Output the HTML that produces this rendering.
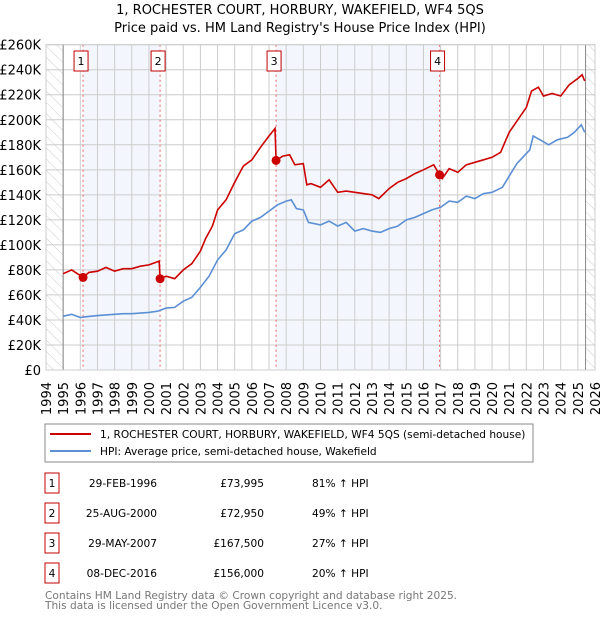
<!DOCTYPE html>
<html><head><meta charset="utf-8"><style>
body{margin:0;background:#fff;font-family:"DejaVu Sans","Liberation Sans",sans-serif;}
svg text{font-family:"DejaVu Sans","Liberation Sans",sans-serif;}
</style></head><body>
<svg id="c" width="600" height="620" xmlns="http://www.w3.org/2000/svg">
<defs><pattern id="hatch" width="8" height="8" patternUnits="userSpaceOnUse" patternTransform="rotate(-45)"><line x1="0" y1="0" x2="0" y2="8" stroke="#ccc" stroke-width="1"/></pattern></defs>
<text x="300" y="14" text-anchor="middle" font-size="13">1, ROCHESTER COURT, HORBURY, WAKEFIELD, WF4 5QS</text>
<text x="300" y="32" text-anchor="middle" font-size="13">Price paid vs. HM Land Registry's House Price Index (HPI)</text>
<g id="plot"></g>
<rect x="45" y="424" width="488" height="38" fill="#fff" stroke="#888"/>
<line x1="50" y1="434" x2="91" y2="434" stroke="#cc0000" stroke-width="2"/>
<text x="100" y="438" font-size="10.6">1, ROCHESTER COURT, HORBURY, WAKEFIELD, WF4 5QS (semi-detached house)</text>
<line x1="50" y1="451" x2="91" y2="451" stroke="#5b8fd4" stroke-width="2"/>
<text x="100" y="455" font-size="10.6">HPI: Average price, semi-detached house, Wakefield</text>
<g id="table"></g>
<text x="45" y="599" font-size="10.6" fill="#777">Contains HM Land Registry data © Crown copyright and database right 2025.</text>
<text x="45" y="609" font-size="10.6" fill="#777">This data is licensed under the Open Government Licence v3.0.</text>
</svg>
<script>
const hpiYears=[1995,1995.5,1996,1996.3,1997,1997.5,1998,1998.5,1999,1999.5,2000,2000.5,2001,2001.5,2002,2002.5,2003,2003.5,2004,2004.5,2005,2005.5,2006,2006.5,2007,2007.5,2008,2008.3,2008.6,2009,2009.3,2010,2010.5,2011,2011.5,2012,2012.5,2013,2013.5,2014,2014.5,2015,2015.5,2016,2016.5,2017,2017.5,2018,2018.5,2019,2019.5,2020,2020.6,2021,2021.45,2022.2,2022.4,2022.8,2023.3,2023.8,2024.4,2024.8,2025.2,2025.4];
const hpiValues=[43,44.5,42,42.5,43.5,44,44.5,45,45,45.5,46,47,49.5,50,55,58,66,75,88,96,109,112,119,122,127,132,135,136,129,128,118,116,119,115,118,111,113,111,110,113,115,120,122,125,128,130,135,134,139,137,141,142,146,155,165,176,187,184,180,184,186,190,196,190];
const propYears=[1995,1995.5,1996.16,1996.5,1997,1997.5,1998,1998.5,1999,1999.5,2000,2000.6,2000.65,2001,2001.5,2002,2002.5,2003,2003.3,2003.7,2004,2004.5,2005,2005.5,2006,2006.5,2007,2007.35,2007.41,2007.8,2008.2,2008.5,2009,2009.2,2009.44,2010,2010.5,2011,2011.5,2012,2012.5,2013,2013.4,2014,2014.5,2015,2015.5,2016,2016.6,2016.94,2017.1,2017.5,2018,2018.5,2019,2019.5,2020,2020.5,2021,2021.5,2022,2022.3,2022.7,2023,2023.5,2024,2024.5,2025,2025.25,2025.4];
const propValues=[77,80,74,78,79,82,79,81,81,83,84,87,73,75,73,80,85,95,105,115,128,136,150,163,168,178,187,193,167.5,171,172,164,165,148,149,146,152,142,143,142,141,140,137,145,150,153,157,160,164,156,153,161,158,164,166,168,170,174,190,200,210,223,226,219,221,219,228,233,236,231];
const saleYears=[1996.16,2000.65,2007.41,2016.94];
const saleValues=[73.995,72.95,167.5,156];
const saleLabels=["1","2","3","4"];
const saleDates=["29-FEB-1996","25-AUG-2000","29-MAY-2007","08-DEC-2016"];
const salePrices=["£73,995","£72,950","£167,500","£156,000"];
const saleHpi=["81% ↑ HPI","49% ↑ HPI","27% ↑ HPI","20% ↑ HPI"];
const yTicks=[0,20,40,60,80,100,120,140,160,180,200,220,240,260];
const yTickLabels=["£0","£20K","£40K","£60K","£80K","£100K","£120K","£140K","£160K","£180K","£200K","£220K","£240K","£260K"];
const xTicks=[1994,1995,1996,1997,1998,1999,2000,2001,2002,2003,2004,2005,2006,2007,2008,2009,2010,2011,2012,2013,2014,2015,2016,2017,2018,2019,2020,2021,2022,2023,2024,2025,2026];

const NS="http://www.w3.org/2000/svg";
const X0=46,X1=595,Y0=370,Y1=44.7;
const xs=y=>X0+(y-1994)/32*(X1-X0);
const ys=v=>Y0-v/260*(Y0-Y1);
const plot=document.getElementById('plot');
function mk(tag,attrs,parent){const e=document.createElementNS(NS,tag);for(const k in attrs)e.setAttribute(k,attrs[k]);(parent||plot).appendChild(e);return e;}
let e;
e=mk('rect',{x:X0,y:Y1,width:X1-X0,height:Y0-Y1,fill:'#fff'});


[[0,1],[2,3]].forEach(p=>{const b=mk('rect',{x:xs(saleYears[p[0]]),y:Y1,width:xs(saleYears[p[1]])-xs(saleYears[p[0]]),height:Y0-Y1,fill:'#eef3fc',opacity:0.7});

});
e=mk('rect',{x:X0,y:Y1,width:xs(1995)-X0,height:Y0-Y1,fill:'url(#hatch)'});


e=mk('rect',{x:xs(2025.45),y:Y1,width:X1-xs(2025.45),height:Y0-Y1,fill:'url(#hatch)'});


yTicks.forEach((t,i)=>{const l=mk('line',{x1:X0,x2:X1,y1:ys(t),y2:ys(t),stroke:'#ccc'});


const tx=mk('text',{x:41,y:ys(t)+5,'text-anchor':'end','font-size':13});tx.textContent=yTickLabels[i];

});
xTicks.forEach(t=>{const l=mk('line',{x1:xs(t),x2:xs(t),y1:Y1,y2:Y0,stroke:'#ccc'});


const tx=mk('text',{x:0,y:0,'text-anchor':'end','font-size':13,transform:`translate(${xs(t)+5},382) rotate(-90)`});tx.textContent=t;

});
[xs(1995),xs(2025.45)].forEach(x=>{const l=mk('line',{x1:x,x2:x,y1:Y1,y2:Y0,stroke:'#888'});

});
saleYears.forEach((s,i)=>{const l=mk('line',{x1:xs(s),x2:xs(s),y1:Y1,y2:Y0,stroke:'#f06060','stroke-dasharray':'2,3'});


const r=mk('rect',{x:xs(s)-9,y:51,width:14,height:20,fill:'#fff',stroke:'#c00000'});


const t=mk('text',{x:xs(s)-2,y:65,'text-anchor':'middle','font-size':11});t.textContent=saleLabels[i];

});
const path=(xa,va)=>xa.map((y,i)=>(i?'L':'M')+xs(y).toFixed(1)+','+ys(va[i]).toFixed(1)).join('');
e=mk('path',{d:path(hpiYears,hpiValues),fill:'none',stroke:'#5b8fd4','stroke-width':1.6});


e=mk('path',{d:path(propYears,propValues),fill:'none',stroke:'#cc0000','stroke-width':1.6});


saleYears.forEach((s,i)=>{const c=mk('circle',{cx:xs(s),cy:ys(saleValues[i]),r:4.5,fill:'#cc0000'});

});
e=mk('rect',{x:X0,y:Y1,width:X1-X0,height:Y0-Y1,fill:'none',stroke:'#ccc'});


const tb=document.getElementById('table');
saleLabels.forEach((lab,i)=>{const cy=483+i*30;
const r=mk('rect',{x:45,y:cy-10,width:14,height:20,fill:'#fff',stroke:'#c00000'},tb);


const cols=[[52,'middle',lab],[157,'end',saleDates[i]],[264,'end',salePrices[i]],[312,'start',saleHpi[i]]];
cols.forEach(c=>{const t=mk('text',{x:c[0],y:cy+4,'text-anchor':c[1],'font-size':10.6},tb);t.textContent=c[2];

});});
</script>
</body></html>
